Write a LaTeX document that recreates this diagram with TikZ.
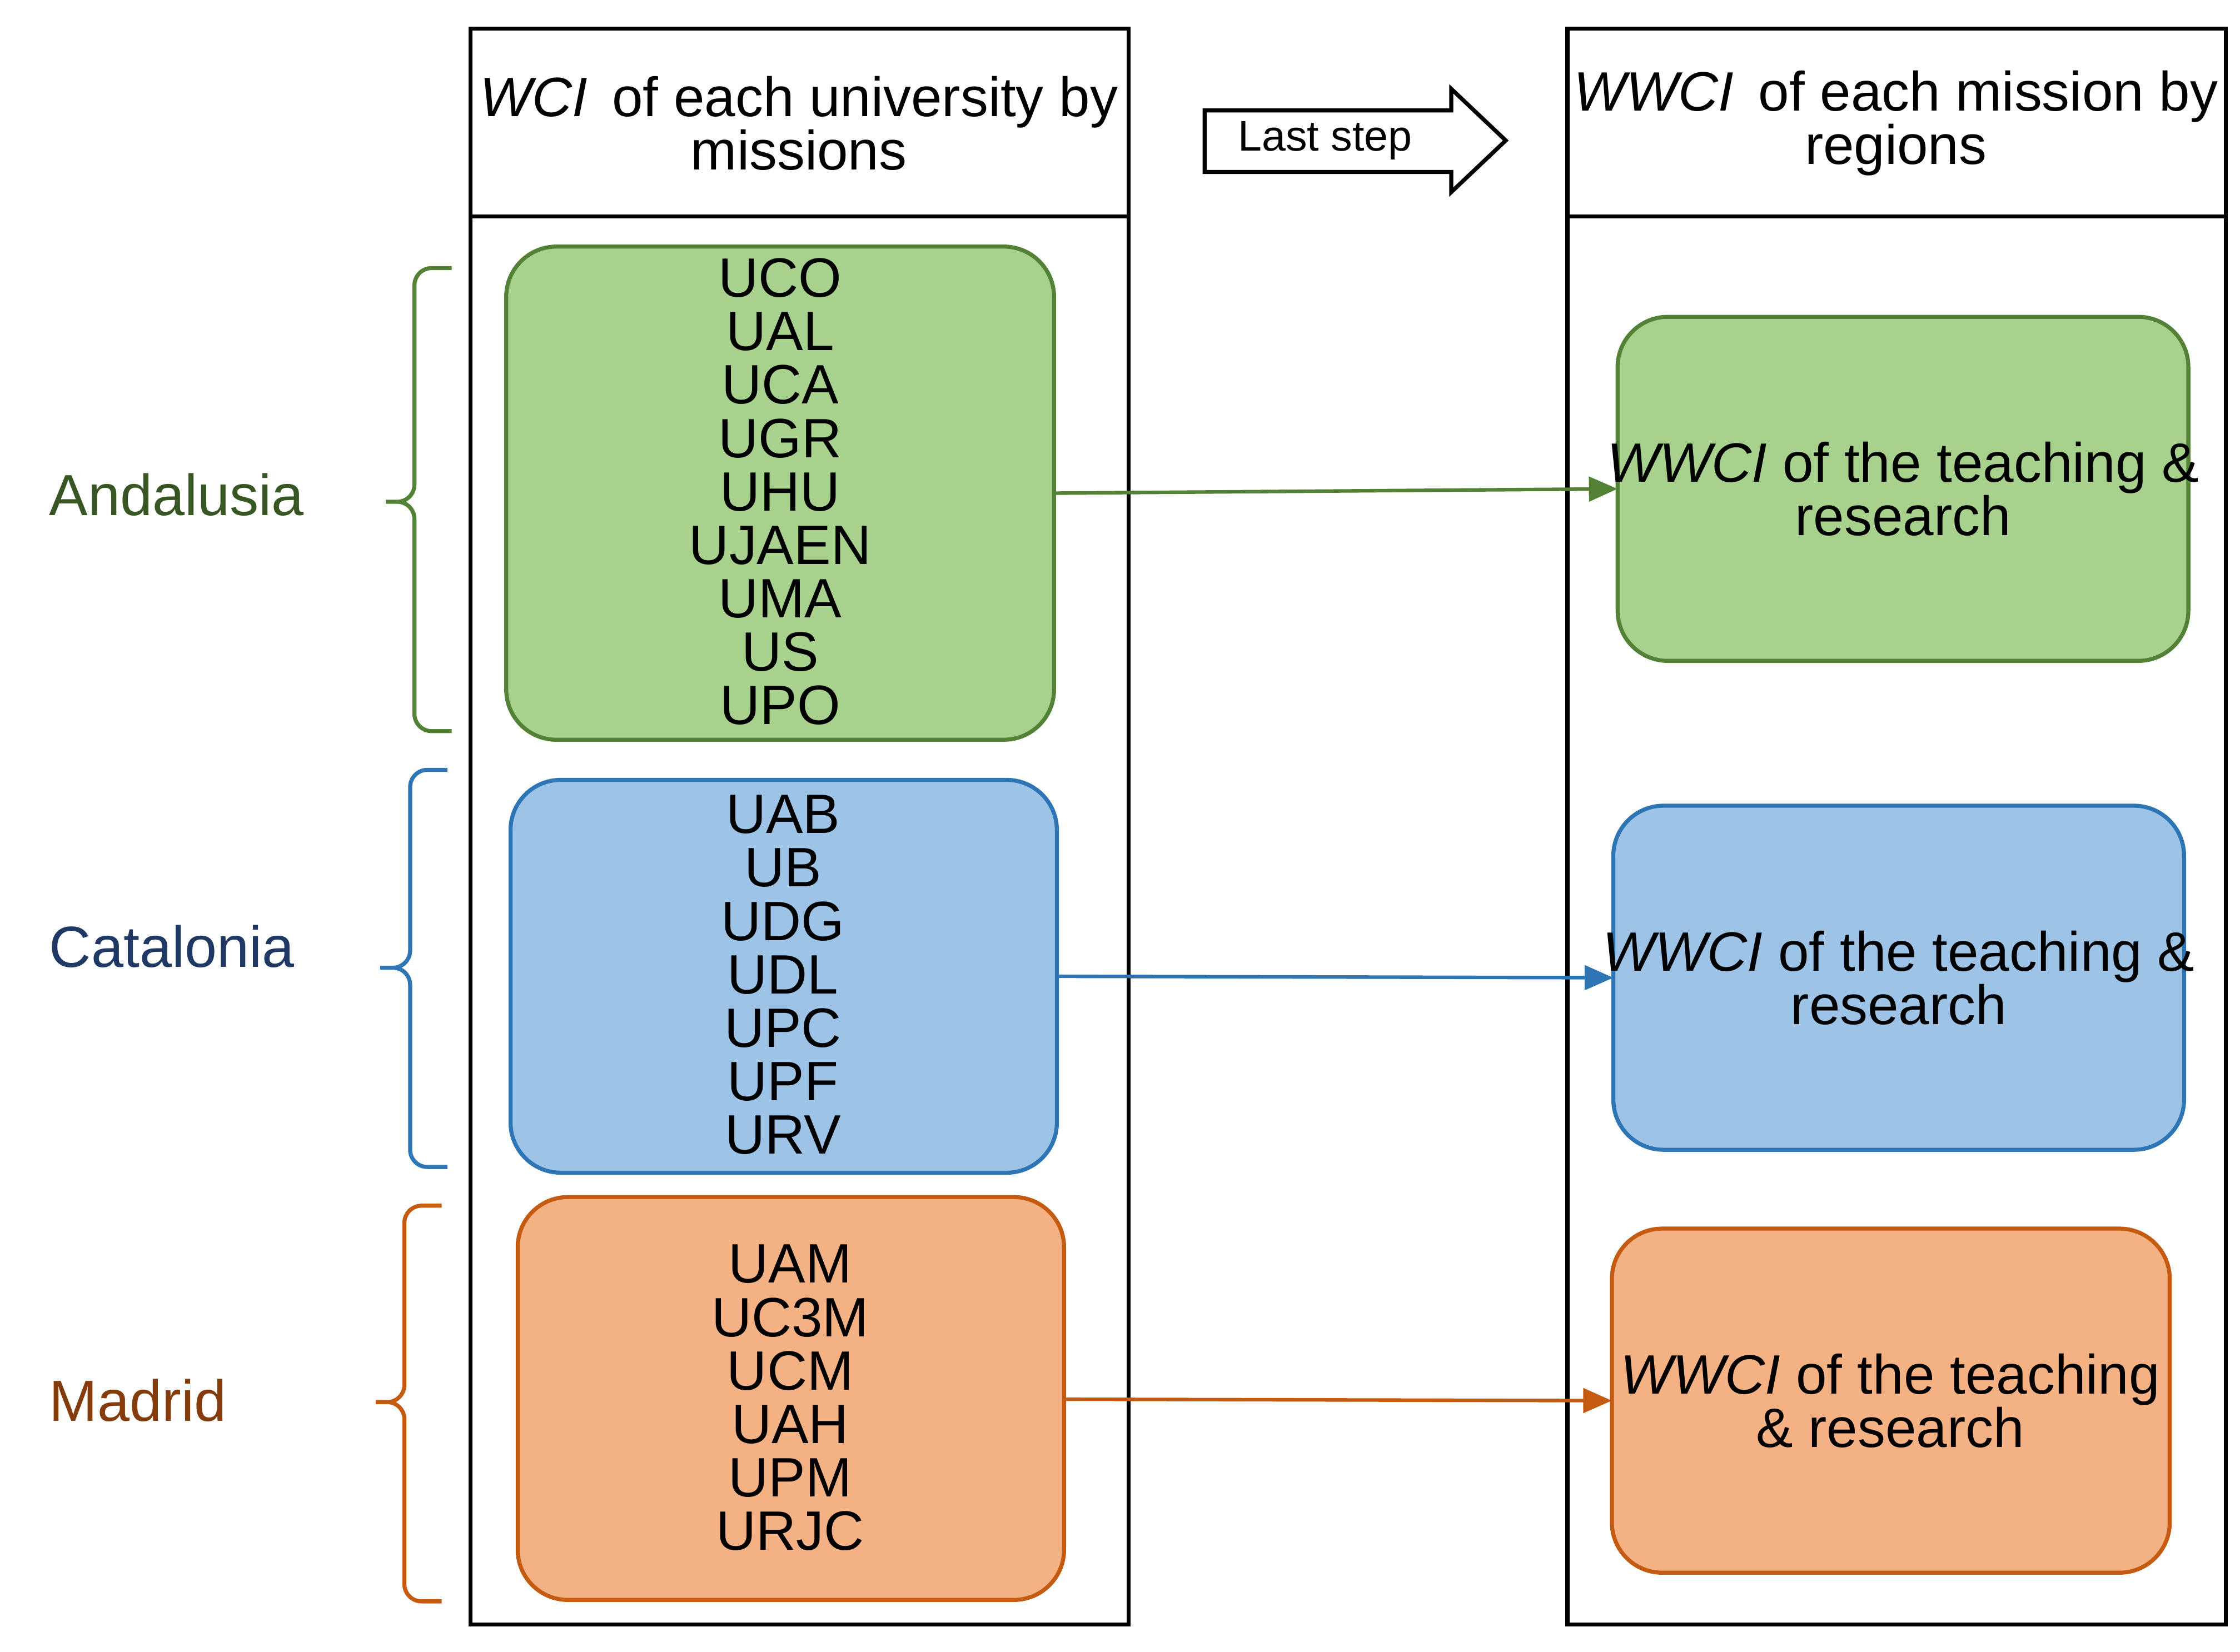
\documentclass[tikz,border=0pt]{standalone}
\usepackage{fontspec}
\setmainfont{Liberation Sans}
\usetikzlibrary{arrows.meta}
\definecolor{gf}{HTML}{A9D18E}\definecolor{gb}{HTML}{538135}
\definecolor{bf}{HTML}{9DC3E6}\definecolor{bb}{HTML}{2E75B6}
\definecolor{of}{HTML}{F4B183}\definecolor{ob}{HTML}{C55A11}
\definecolor{gl}{HTML}{375623}\definecolor{bl}{HTML}{1F3864}\definecolor{ol}{HTML}{843C0C}
\begin{document}
\begin{tikzpicture}[x=0.01cm,y=-0.01cm,
  box/.style={draw,line width=0.8pt,rounded corners=0.35cm,inner sep=0pt},
  txt/.style={align=center,font=\fontsize{11}{10.6}\selectfont},
  conn/.style={line width=0.7pt,-{Triangle[length=0.2cm,width=0.17cm]}},
  brace/.style={line width=0.8pt,rounded corners=0.12cm},
  reg/.style={font=\fontsize{11.5}{12}\selectfont,anchor=west}]
\useasboundingbox (0,0) rectangle (1562,1152);
% panels
\draw[line width=0.8pt] (328,20) rectangle (787,1133) (328,151) -- (787,151);
\draw[line width=0.8pt] (1093,20) rectangle (1552,1133) (1093,151) -- (1552,151);
\node[txt] (h1) at (557,86) {\textit{WCI}\, of each university by\\missions};
\node[txt] (h2) at (1322,86) {\textit{WWCI}\, of each mission by\\regions};
% last step arrow
\draw[line width=0.8pt,fill=white] (840,77) -- (1012,77) -- (1012,62) -- (1050,98) -- (1012,134) -- (1012,120) -- (840,120) -- cycle;
\node[font=\fontsize{8.5}{9}\selectfont] (ls) at (924,98) {Last step};
% left boxes
\draw[box,draw=gb,fill=gf] (353,172) rectangle (735,516);
\node[txt] (g) at (544,343) {UCO\\UAL\\UCA\\UGR\\UHU\\UJAEN\\UMA\\US\\UPO};
\draw[box,draw=bb,fill=bf] (356,544) rectangle (737,818);
\node[txt] (b) at (546,680) {UAB\\UB\\UDG\\UDL\\UPC\\UPF\\URV};
\draw[box,draw=ob,fill=of] (361,835) rectangle (742,1116);
\node[txt] (o) at (551,975) {UAM\\UC3M\\UCM\\UAH\\UPM\\URJC};
% right boxes
\draw[box,draw=gb,fill=gf] (1128,221) rectangle (1526,461);
\node[txt] (rg) at (1327,341) {\textit{WWCI} of the teaching \&\\research};
\draw[box,draw=bb,fill=bf] (1125,562) rectangle (1523,802);
\node[txt] (rb) at (1324,682) {\textit{WWCI} of the teaching \&\\research};
\draw[box,draw=ob,fill=of] (1124,857) rectangle (1513,1097);
\node[txt] (ro) at (1318,977) {\textit{WWCI} of the teaching\\\& research};
% connectors
\coordinate (g1) at (735,344); \coordinate (g2) at (1128,341);
\coordinate (b1) at (737,681); \coordinate (b2) at (1125,682);
\coordinate (o1) at (742,976); \coordinate (o2) at (1124,977);
\draw[conn,gb] (g1) -- (g2);
\draw[conn,bb] (b1) -- (b2);
\draw[conn,ob] (o1) -- (o2);
% braces
\draw[brace,gb] (315,187) -- (289,187) -- (289,350) -- (262,350) -- (289,350) -- (289,510) -- (315,510);
\draw[brace,bb] (312,537) -- (286,537) -- (286,675) -- (258,675) -- (286,675) -- (286,814) -- (312,814);
\draw[brace,ob] (308,841) -- (282,841) -- (282,978) -- (255,978) -- (282,978) -- (282,1117) -- (308,1117);
\node[reg,gl] (an) at (22,345) {Andalusia};
\node[reg,bl] (ca) at (22,660) {Catalonia};
\node[reg,ol] (ma) at (22,977) {Madrid};
\end{tikzpicture}
\end{document}
